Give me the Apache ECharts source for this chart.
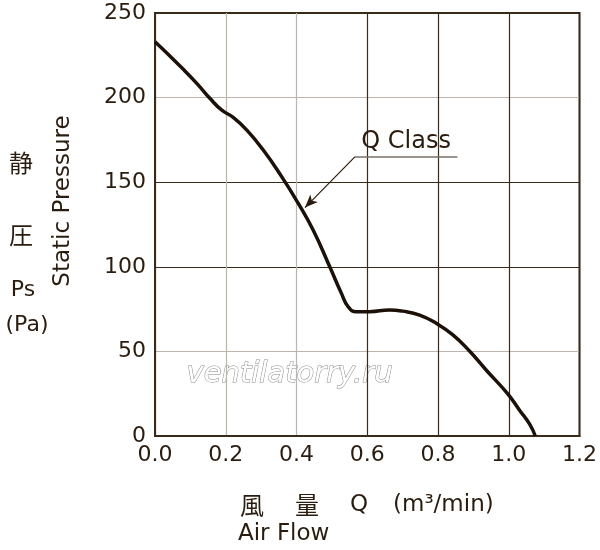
<!DOCTYPE html>
<html>
<head>
<meta charset="utf-8">
<script src="https://cdn.jsdelivr.net/npm/echarts@6/dist/echarts.min.js"></script>
<style>
  html, body { margin: 0; padding: 0; background: #fff; }
  #main { width: 600px; height: 550px; }
</style>
</head>
<body>
<div id="main"></div>
<script>
// P-Q curve
var flow = [0, 0.04, 0.08, 0.12, 0.155, 0.188, 0.221, 0.259, 0.306, 0.358, 0.405, 0.447, 0.494, 0.527, 0.546, 0.569, 0.607, 0.663, 0.7, 0.748, 0.795, 0.842, 0.889, 0.936, 0.996, 1.03, 1.059, 1.075];
var pressure = [233, 225, 216.7, 208, 199.6, 192.7, 188.3, 180.9, 169, 153.3, 137.5, 121.7, 100, 84.3, 76.4, 73.5, 73.5, 74.5, 73.8, 71.5, 66.6, 59.8, 50.2, 39, 25.2, 15.4, 7, 0];
var seriesName = 'Q Class';
// annotation: underline ends and arrow tip, in data units
var noteLeft = [0.565, 165];
var noteRight = [0.855, 165];
var noteTip = [0.424, 135];

var ink = '#2a1c0e';
var dark = '#3a2a1a';
var light = '#bdb5ad';
var font = 'DejaVu Sans';
var cjk = 'Noto Sans CJK JP';

var myChart = echarts.init(document.getElementById('main'));

var points = flow.map(function (q, i) { return [q, pressure[i]]; });

option = {
  animation: false,
  backgroundColor: '#fff',
  grid: {
    left: 155, right: 20, top: 13, bottom: 114,
    show: true,
    borderColor: dark,
    borderWidth: 2
  },
  xAxis: {
    type: 'value',
    min: 0, max: 1.2, interval: 0.2,
    axisLine: { show: true, lineStyle: { color: dark, width: 2 } },
    axisTick: { show: false },
    axisLabel: {
      color: ink, fontFamily: font, fontSize: 22, margin: 8,
      formatter: function (v) { return v.toFixed(1); }
    },
    splitLine: {
      show: true, showMinLine: true, showMaxLine: true,
      lineStyle: { width: 1.2, color: [dark, light, light, dark, dark, dark, dark] }
    }
  },
  yAxis: {
    type: 'value',
    min: 0, max: 250, interval: 50,
    axisLine: { show: true, lineStyle: { color: dark, width: 2 } },
    axisTick: { show: false },
    axisLabel: { color: ink, fontFamily: font, fontSize: 22, margin: 9 },
    splitLine: {
      show: true, showMinLine: true, showMaxLine: true,
      lineStyle: { width: 1.2, color: [dark, light, dark, dark, light, dark] }
    }
  },
  series: [{
    name: seriesName,
    type: 'line',
    data: points,
    smooth: 0.5,
    showSymbol: false,
    lineStyle: { color: '#1c1108', width: 3.5 },
    markLine: {
      silent: true,
      animation: false,
      symbol: 'none',
      data: [
        [
          { coord: noteLeft, lineStyle: { color: '#7a7068', width: 1.5, type: 'solid' },
            label: { show: true, formatter: seriesName, position: 'insideMiddleTop',
                     distance: 3, color: ink, fontFamily: font, fontSize: 24 } },
          { coord: noteRight }
        ],
        [
          { coord: noteLeft, symbol: 'none', lineStyle: { color: '#2a1c0e', width: 1.2, type: 'solid' },
            label: { show: false } },
          { coord: noteTip, symbol: 'arrow', symbolSize: [8, 13] }
        ]
      ]
    }
  }],
  graphic: [
    { type: 'text', left: 186, top: 359, silent: true,
      style: { text: 'ventilatorry.ru', fontFamily: font, fontStyle: 'italic', fontSize: 29,
               fill: '#fff', stroke: '#8a8a8a', lineWidth: 1 } },
    { type: 'text', x: 21, y: 163,
      style: { text: '静', fontFamily: cjk, fontSize: 24, fill: ink, align: 'center', verticalAlign: 'middle' } },
    { type: 'text', x: 21, y: 235,
      style: { text: '圧', fontFamily: cjk, fontSize: 24, fill: ink, align: 'center', verticalAlign: 'middle' } },
    { type: 'text', x: 23, y: 290,
      style: { text: 'Ps', fontFamily: font, fontSize: 22, fill: ink, align: 'center', verticalAlign: 'middle' } },
    { type: 'text', x: 27, y: 325,
      style: { text: '(Pa)', fontFamily: font, fontSize: 22, fill: ink, align: 'center', verticalAlign: 'middle' } },
    { type: 'text', x: 63, y: 201, rotation: Math.PI / 2,
      style: { text: 'Static Pressure', fontFamily: font, fontSize: 23, fill: ink, align: 'center', verticalAlign: 'middle' } },
    { type: 'text', x: 252, y: 505,
      style: { text: '風', fontFamily: cjk, fontSize: 24, fill: ink, align: 'center', verticalAlign: 'middle' } },
    { type: 'text', x: 307, y: 505,
      style: { text: '量', fontFamily: cjk, fontSize: 24, fill: ink, align: 'center', verticalAlign: 'middle' } },
    { type: 'text', x: 359, y: 505,
      style: { text: 'Q', fontFamily: font, fontSize: 23, fill: ink, align: 'center', verticalAlign: 'middle' } },
    { type: 'text', x: 393, y: 505,
      style: { text: '(m³/min)', fontFamily: font, fontSize: 23, fill: ink, align: 'left', verticalAlign: 'middle' } },
    { type: 'text', x: 238, y: 534,
      style: { text: 'Air Flow', fontFamily: font, fontSize: 23, fill: ink, align: 'left', verticalAlign: 'middle' } }
  ]
};

myChart.setOption(option);
</script>
</body>
</html>
